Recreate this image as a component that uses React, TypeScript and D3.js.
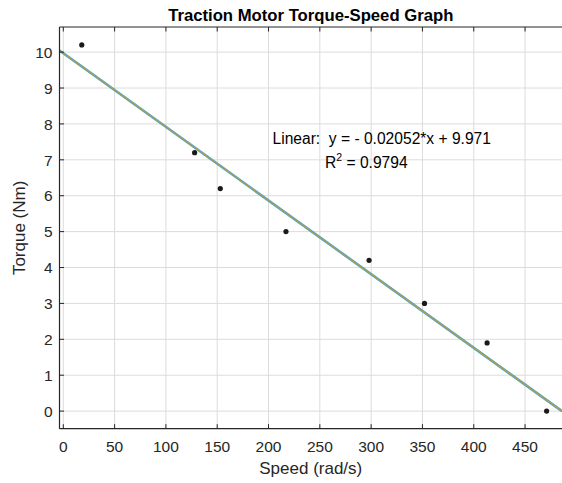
import React from "react";
import * as d3 from "d3";

const speed = [18, 128, 153, 217, 298, 352, 413, 471];
const torque = [10.2, 7.2, 6.2, 5.0, 4.2, 3.0, 1.9, 0.0];
const xTicks = [0, 50, 100, 150, 200, 250, 300, 350, 400, 450];
const yTicks = [0, 1, 2, 3, 4, 5, 6, 7, 8, 9, 10];
const slope = -0.02052;
const intercept = 9.971;
const xDomain = [-3.7, 486];
const yDomain = [-0.49, 10.7];

const W = 562, H = 483;
const L = 59.5, R = 562, T = 27, B = 428.7;
const FONT = "'Liberation Sans', Arial, sans-serif";
const TXT = "#262626";

export default function App() {
  const x = d3.scaleLinear().domain(xDomain).range([L, R]);
  const y = d3.scaleLinear().domain(yDomain).range([B, T]);
  const fit = d3.line<number>().x((d) => x(d)).y((d) => y(slope * d + intercept));
  const fitPath = fit(xDomain) || "";
  return (
    <svg width={W} height={H} style={{ position: "absolute", left: 0, top: 0, background: "#fff" }} fontFamily={FONT}>
      <rect x={0} y={0} width={W} height={H} fill="#fff" />
      {/* grid */}
      {xTicks.map((t) => (
        <line key={"gx" + t} x1={x(t)} x2={x(t)} y1={T} y2={B} stroke="#dcdcdc" strokeWidth={1} />
      ))}
      {yTicks.map((t) => (
        <line key={"gy" + t} x1={L} x2={R} y1={y(t)} y2={y(t)} stroke="#dcdcdc" strokeWidth={1} />
      ))}
      {/* fit line */}
      <path d={fitPath} stroke="#4a9fd4" strokeWidth={2.6} fill="none" />
      <path d={fitPath} stroke="#a8a448" strokeWidth={1.3} fill="none" />
      {/* points */}
      {speed.map((s, i) => (
        <circle key={"p" + i} cx={x(s)} cy={y(torque[i])} r={2.6} fill="#1a1a1a" />
      ))}
      {/* axes frame */}
      <line x1={L} x2={L} y1={T} y2={B} stroke={TXT} strokeWidth={1.2} />
      <line x1={L} x2={R} y1={B} y2={B} stroke={TXT} strokeWidth={1.2} />
      <line x1={L} x2={R} y1={T} y2={T} stroke={TXT} strokeWidth={1.2} />
      {xTicks.map((t) => (
        <g key={"tx" + t}>
          <line x1={x(t)} x2={x(t)} y1={B} y2={B - 4.5} stroke={TXT} strokeWidth={1} />
          <line x1={x(t)} x2={x(t)} y1={T} y2={T + 4.5} stroke={TXT} strokeWidth={1} />
          <text x={x(t)} y={B + 23.5} textAnchor="middle" fontSize={15.5} fill={TXT}>{t}</text>
        </g>
      ))}
      {yTicks.map((t) => (
        <g key={"ty" + t}>
          <line x1={L} x2={L + 4.5} y1={y(t)} y2={y(t)} stroke={TXT} strokeWidth={1} />
          <text x={L - 7} y={y(t) + 5.7} textAnchor="end" fontSize={15.5} fill={TXT}>{t}</text>
        </g>
      ))}
      {/* labels */}
      <text x={(L + R) / 2} y={20.5} textAnchor="middle" fontSize={16.7} fontWeight="bold" fill="#000">
        Traction Motor Torque-Speed Graph
      </text>
      <text x={(L + R) / 2} y={473.5} textAnchor="middle" fontSize={17} fill={TXT}>Speed (rad/s)</text>
      <text transform={`translate(25,${(T + B) / 2}) rotate(-90)`} textAnchor="middle" fontSize={17} fill={TXT}>
        Torque (Nm)
      </text>
      {/* annotation */}
      <text x={272.5} y={143.5} fontSize={15.6} fill="#000" xmlSpace="preserve">{"Linear:  y = - 0.02052*x + 9.971"}</text>
      <text x={325} y={168} fontSize={15.6} fill="#000">
        R<tspan fontSize={10.5} dy={-7}>2</tspan><tspan dy={7}> = 0.9794</tspan>
      </text>
    </svg>
  );
}
